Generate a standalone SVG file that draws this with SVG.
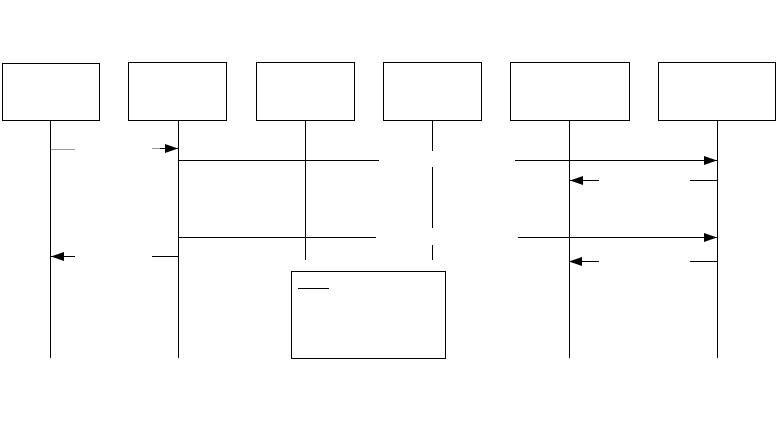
<svg xmlns="http://www.w3.org/2000/svg" width="776" height="440" viewBox="0 0 776 440">
<style>
.box{fill:#fff;stroke:#000;stroke-width:1}
.life{stroke:#000;stroke-width:1;fill:none}
.msg{stroke:#000;stroke-width:1;fill:none}
.gray{stroke:#999;stroke-width:1;fill:none}
</style>
<defs>
<marker id="ah" viewBox="0 0 13 9" refX="13" refY="4.5" markerWidth="13" markerHeight="9" markerUnits="userSpaceOnUse" orient="auto">
<path d="M0,0 L13,4.5 L0,9 Z" fill="#000"/>
</marker>
</defs>
<rect width="776" height="440" fill="#fff"/>
<g id="lifelines">
<line class="life" x1="50.5" y1="121" x2="50.5" y2="358"/>
<line class="life" x1="178.5" y1="121" x2="178.5" y2="358"/>
<line class="life" x1="305.5" y1="121" x2="305.5" y2="260"/>
<path class="life" d="M432.5,121 V151 M432.5,167 V228 M432.5,245 V260"/>
<line class="life" x1="569.5" y1="121" x2="569.5" y2="358"/>
<line class="life" x1="717.5" y1="121" x2="717.5" y2="358"/>
</g>
<g id="n1"><rect class="box" x="2.5" y="63.5" width="97" height="57"/></g>
<g id="n2"><rect class="box" x="128.5" y="62.5" width="98" height="58"/></g>
<g id="n3"><rect class="box" x="256.5" y="62.5" width="98" height="58"/></g>
<g id="n4"><rect class="box" x="383.5" y="62.5" width="98" height="58"/></g>
<g id="n5"><rect class="box" x="510.5" y="62.5" width="119" height="58"/></g>
<g id="n6"><rect class="box" x="658.5" y="62.5" width="117" height="58"/></g>
<g id="note"><rect class="box" x="291.5" y="271.5" width="154" height="87"/>
<line class="msg" x1="298" y1="288.5" x2="329" y2="288.5"/></g>
<g id="connectors">
<line class="gray" x1="51" y1="149.5" x2="75" y2="149.5"/>
<line class="gray" x1="152" y1="148.5" x2="166" y2="148.5"/>
<line class="msg" x1="160" y1="148.5" x2="178" y2="148.5" marker-end="url(#ah)"/>
<line class="msg" x1="178" y1="160.5" x2="379" y2="160.5"/>
<line class="msg" x1="515" y1="160.5" x2="717" y2="160.5" marker-end="url(#ah)"/>
<line class="msg" x1="717" y1="180.5" x2="690" y2="180.5"/>
<line class="msg" x1="599" y1="180.5" x2="570" y2="180.5" marker-end="url(#ah)"/>
<line class="msg" x1="178" y1="237.5" x2="376" y2="237.5"/>
<line class="msg" x1="518" y1="237.5" x2="717" y2="237.5" marker-end="url(#ah)"/>
<line class="msg" x1="178" y1="256.5" x2="152" y2="256.5"/>
<line class="msg" x1="75" y1="256.5" x2="51" y2="256.5" marker-end="url(#ah)"/>
<line class="msg" x1="717" y1="261.5" x2="690" y2="261.5"/>
<line class="msg" x1="599" y1="261.5" x2="569" y2="261.5" marker-end="url(#ah)"/>
</g>
</svg>
